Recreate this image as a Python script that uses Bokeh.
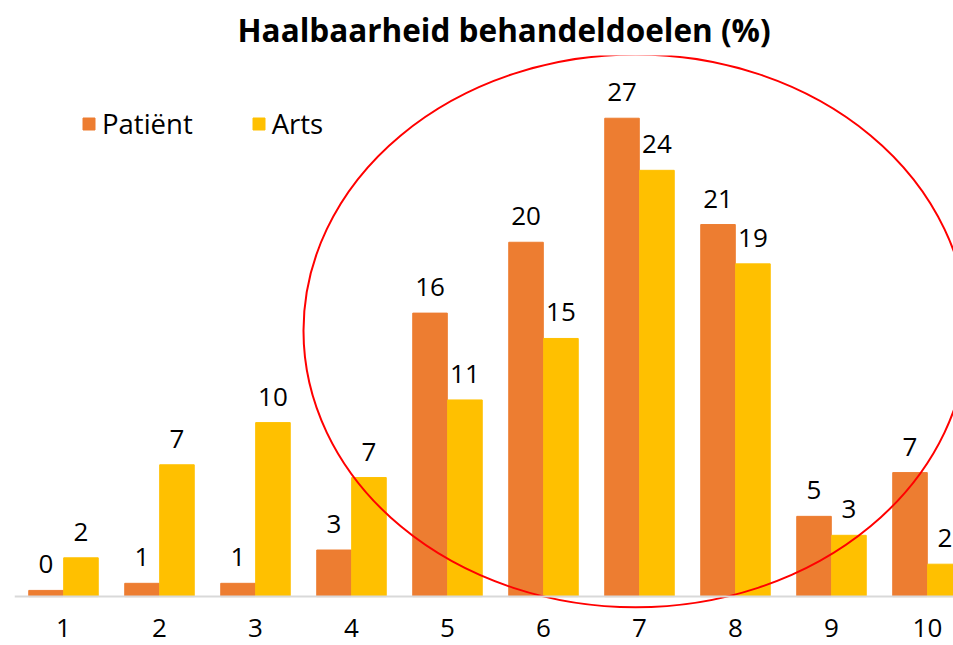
from bokeh.plotting import figure
from bokeh.models import Range1d, FixedTicker, Span, ColumnDataSource
from bokeh.embed import file_html
from bokeh.resources import INLINE
from bokeh.core.properties import value

# ---- data ----
categories = ["1", "2", "3", "4", "5", "6", "7", "8", "9", "10"]
patient = [0.35, 0.75, 0.75, 2.63, 16.0, 20.0, 27.0, 21.0, 4.53, 7.0]
arts = [2.19, 7.44, 9.82, 6.72, 11.1, 14.57, 24.06, 18.78, 3.46, 1.83]
patient_labels = ["0", "1", "1", "3", "16", "20", "27", "21", "5", "7"]
arts_labels = ["2", "7", "10", "7", "11", "15", "24", "19", "3", "2"]
series_names = ["Patiënt", "Arts"]
title_text = "Haalbaarheid behandeldoelen (%)"

# highlight ellipse (data units)
ell_x, ell_y, ell_w, ell_h = 6.96, 15.0, 6.92, 31.2

FONT = "Open Sans"
ORANGE = "#ED7D31"
YELLOW = "#FFC000"

xpos = list(range(1, len(categories) + 1))
off = 0.182
bw = 0.36

src = ColumnDataSource(dict(
    xp=[x - off for x in xpos], xa=[x + off for x in xpos],
    patient=patient, arts=arts,
    pl=patient_labels, al=arts_labels,
))

p = figure(width=953, height=645, output_backend="svg", toolbar_location=None,
           x_range=Range1d(0.4896, 10.271), y_range=Range1d(-0.84, 30.54),
           min_border_left=14, min_border_right=0, min_border_top=0, min_border_bottom=34)

p.vbar(x="xp", top="patient", width=bw, source=src, color=ORANGE, legend_label=series_names[0])
p.vbar(x="xa", top="arts", width=bw, source=src, color=YELLOW, legend_label=series_names[1])

p.text(x="xp", y="patient", text="pl", source=src, text_align="center",
       text_baseline="alphabetic", y_offset=-26, text_font=value(FONT),
       text_font_size="26px", text_color="black")
p.text(x="xa", y="arts", text="al", source=src, text_align="center",
       text_baseline="alphabetic", y_offset=-26, text_font=value(FONT),
       text_font_size="26px", text_color="black")

p.add_layout(Span(location=0, dimension="width", line_color="#D9D9D9", line_width=2))

p.ellipse(x=[ell_x], y=[ell_y], width=ell_w, height=ell_h, fill_color=None,
          line_color="#FF0000", line_width=2)

# axes
p.yaxis.visible = False
xa = p.xaxis[0]
xa.ticker = FixedTicker(ticks=xpos)
xa.major_label_overrides = {x: c for x, c in zip(xpos, categories)}
xa.axis_line_color = None
xa.major_tick_line_color = None
xa.minor_tick_line_color = None
xa.major_tick_in = 0
xa.major_tick_out = 0
xa.major_label_standoff = 7
xa.major_label_text_font = FONT
xa.major_label_text_font_size = "26px"
xa.major_label_text_color = "black"

p.grid.visible = False
p.outline_line_color = None

# title
p.title.text = title_text
p.title.text_font = FONT
p.title.text_font_size = "31.5px"
p.title.text_font_style = "bold"
p.title.align = "left"
p.title.offset = 223
p.title.text_color = "black"

# legend
lg = p.legend[0]
lg.location = (67, 469)
lg.orientation = "horizontal"
lg.border_line_color = None
lg.background_fill_alpha = 0
lg.glyph_width = 15
lg.glyph_height = 15
lg.label_standoff = 6
lg.spacing = 58
lg.margin = 0
lg.padding = 0
lg.label_text_font = FONT
lg.label_text_font_size = "27.5px"
lg.label_text_color = "black"

open("out.html", "w").write(file_html(p, INLINE))
